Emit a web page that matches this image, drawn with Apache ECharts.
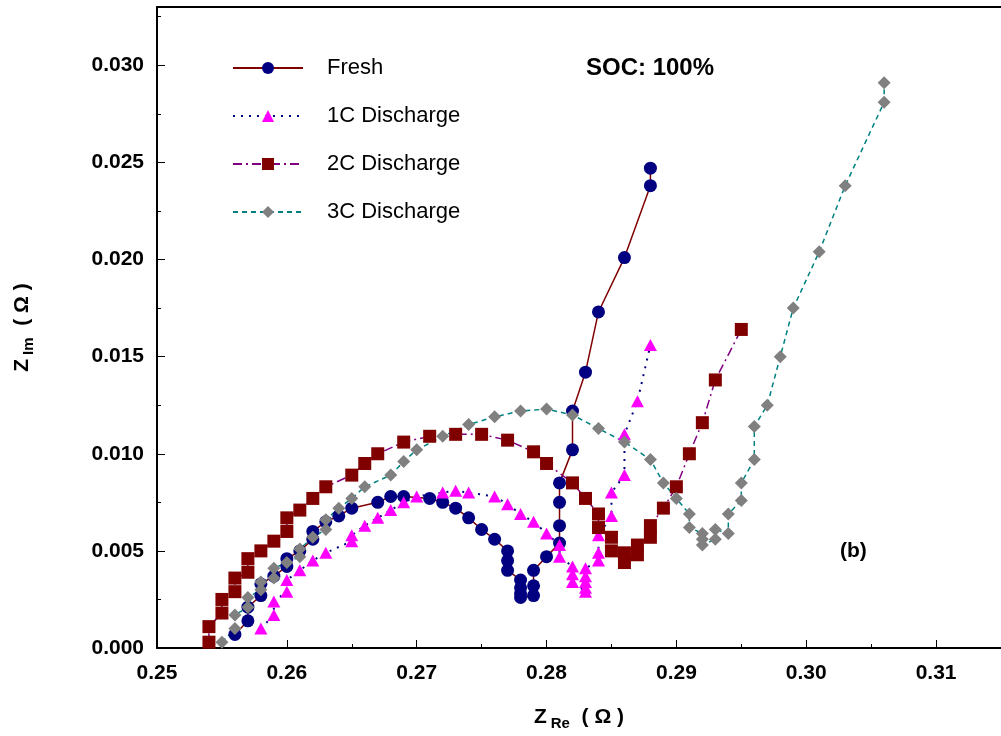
<!DOCTYPE html>
<html>
<head>
<meta charset="utf-8">
<script src="https://cdn.jsdelivr.net/npm/echarts@6/dist/echarts.min.js"></script>
<style>
  html, body { margin: 0; padding: 0; background: #fff; }
  #chart { width: 1001px; height: 736px; }
</style>
</head>
<body>
<div id="chart"></div>
<script>
// Z_Re, Z_Im pairs (ohm)
const freshData = [
  [0.2560, 0.0007], [0.2570, 0.0014], [0.2570, 0.0021], [0.2580, 0.0027], [0.2580, 0.0033],
  [0.2590, 0.0037], [0.2600, 0.0042], [0.2600, 0.0046], [0.2610, 0.0050], [0.2620, 0.0056],
  [0.2620, 0.0060], [0.2630, 0.0065], [0.2640, 0.0068], [0.2650, 0.0072], [0.2670, 0.0075],
  [0.2680, 0.0078], [0.2690, 0.0078], [0.2710, 0.0077], [0.2720, 0.0075], [0.2730, 0.0072],
  [0.2740, 0.0067], [0.2750, 0.0061], [0.2760, 0.0056], [0.2770, 0.0050], [0.2770, 0.0045],
  [0.2770, 0.0040], [0.2780, 0.0035], [0.2780, 0.0031], [0.2780, 0.0028], [0.2780, 0.0026],
  [0.2790, 0.0027], [0.2790, 0.0032], [0.2790, 0.0040], [0.2800, 0.0047], [0.2810, 0.0054],
  [0.2810, 0.0063], [0.2810, 0.0075], [0.2810, 0.0085], [0.2820, 0.0102], [0.2820, 0.0122],
  [0.2830, 0.0142], [0.2840, 0.0173], [0.2860, 0.0201], [0.2880, 0.0238], [0.2880, 0.0247]
]
const c1Data = [
  [0.2580, 0.0010], [0.2590, 0.0017], [0.2590, 0.0024], [0.2600, 0.0029], [0.2600, 0.0035],
  [0.2610, 0.0040], [0.2620, 0.0045], [0.2630, 0.0049], [0.2650, 0.0055], [0.2650, 0.0058],
  [0.2660, 0.0063], [0.2670, 0.0067], [0.2680, 0.0071], [0.2690, 0.0075], [0.2700, 0.0078],
  [0.2720, 0.0080], [0.2730, 0.0081], [0.2740, 0.0080], [0.2760, 0.0078], [0.2770, 0.0074],
  [0.2780, 0.0069], [0.2790, 0.0065], [0.2800, 0.0059], [0.2810, 0.0053], [0.2810, 0.0047],
  [0.2820, 0.0042], [0.2820, 0.0038], [0.2820, 0.0034], [0.2830, 0.0029], [0.2830, 0.0031],
  [0.2830, 0.0034], [0.2830, 0.0037], [0.2830, 0.0041], [0.2840, 0.0045], [0.2840, 0.0049],
  [0.2840, 0.0058], [0.2850, 0.0068], [0.2850, 0.0080], [0.2860, 0.0089], [0.2860, 0.0110],
  [0.2870, 0.0127], [0.2880, 0.0156]
]
const c2Data = [
  [0.2540, 0.0003], [0.2540, 0.0011], [0.2550, 0.0018], [0.2550, 0.0025], [0.2560, 0.0029],
  [0.2560, 0.0036], [0.2570, 0.0039], [0.2570, 0.0046], [0.2580, 0.0050], [0.2590, 0.0055],
  [0.2600, 0.0060], [0.2600, 0.0067], [0.2610, 0.0071], [0.2620, 0.0077], [0.2630, 0.0083],
  [0.2650, 0.0089], [0.2660, 0.0095], [0.2670, 0.0100], [0.2690, 0.0106], [0.2710, 0.0109],
  [0.2730, 0.0110], [0.2750, 0.0110], [0.2770, 0.0107], [0.2790, 0.0101], [0.2800, 0.0095],
  [0.2820, 0.0085], [0.2830, 0.0077], [0.2840, 0.0069], [0.2840, 0.0062], [0.2850, 0.0057],
  [0.2850, 0.0050], [0.2860, 0.0049], [0.2860, 0.0044], [0.2870, 0.0048], [0.2870, 0.0053],
  [0.2880, 0.0057], [0.2880, 0.0063], [0.2890, 0.0072], [0.2900, 0.0083], [0.2910, 0.0100],
  [0.2920, 0.0116], [0.2930, 0.0138], [0.2950, 0.0164]
]
const c3Data = [
  [0.2550, 0.0003], [0.2560, 0.0010], [0.2560, 0.0017], [0.2570, 0.0021], [0.2570, 0.0026],
  [0.2580, 0.0030], [0.2580, 0.0034], [0.2590, 0.0036], [0.2590, 0.0041], [0.2600, 0.0044],
  [0.2610, 0.0047], [0.2610, 0.0051], [0.2620, 0.0057], [0.2630, 0.0061], [0.2630, 0.0066],
  [0.2640, 0.0072], [0.2650, 0.0077], [0.2660, 0.0083], [0.2680, 0.0089], [0.2690, 0.0096],
  [0.2700, 0.0102], [0.2720, 0.0109], [0.2740, 0.0115], [0.2760, 0.0119], [0.2780, 0.0122],
  [0.2800, 0.0123], [0.2820, 0.0120], [0.2840, 0.0113], [0.2860, 0.0106], [0.2880, 0.0097],
  [0.2890, 0.0085], [0.2900, 0.0077], [0.2910, 0.0069], [0.2910, 0.0062], [0.2920, 0.0059],
  [0.2920, 0.0056], [0.2920, 0.0053], [0.2930, 0.0056], [0.2930, 0.0061], [0.2940, 0.0059],
  [0.2940, 0.0069], [0.2950, 0.0076], [0.2950, 0.0085], [0.2960, 0.0097], [0.2960, 0.0114],
  [0.2970, 0.0125], [0.2980, 0.0150], [0.2990, 0.0175], [0.3010, 0.0204], [0.3030, 0.0238],
  [0.3060, 0.0281], [0.3060, 0.0291]
]
const seriesNames = ['Fresh', '1C Discharge', '2C Discharge', '3C Discharge']

const font = 'Liberation Sans, Arial, sans-serif'
const chart = echarts.init(document.getElementById('chart'))

function line(name, data, symbol, size, markColor, lineColor, dash, width) {
  return {
    name: name,
    type: 'line',
    data: data,
    symbol: symbol,
    symbolSize: size,
    showAllSymbol: true,
    itemStyle: { color: markColor, opacity: 1 },
    lineStyle: { color: lineColor, type: dash, width: width },
    emphasis: { disabled: true }
  }
}

const nameRich = {
  z: { fontFamily: font, fontSize: 21, fontWeight: 'bold', color: '#000' },
  s: { fontFamily: font, fontSize: 15, fontWeight: 'bold', color: '#000', padding: [12, 0, 0, 4] },
  p: { fontFamily: font, fontSize: 21, fontWeight: 'bold', color: '#000' }
}

chart.setOption({
  animation: false,
  backgroundColor: '#fff',
  grid: { left: 157, right: 0, top: 7, bottom: 87 },
  legend: {
    orient: 'vertical',
    left: 232,
    top: 57,
    padding: 0,
    itemWidth: 70,
    itemHeight: 15,
    itemGap: 26,
    textStyle: { fontFamily: font, fontSize: 22, color: '#000', padding: [0, 0, 0, 19] },
    data: seriesNames
  },
  xAxis: [{
    type: 'value',
    min: 0.25,
    max: 0.315,
    interval: 0.01,
    name: '{z|Z}{s|Re}{p|  ( Ω )}',
    nameLocation: 'middle',
    nameGap: 56,
    nameTextStyle: { rich: nameRich },
    axisLine: { lineStyle: { color: '#000', width: 2 } },
    axisTick: { inside: true, length: 8, lineStyle: { color: '#000', width: 1 } },
    minorTick: { show: true, splitNumber: 2, length: 4, lineStyle: { color: '#000', width: 1 } },
    splitLine: { show: false },
    axisLabel: {
      margin: 15,
      fontFamily: font, fontSize: 21, fontWeight: 'bold', color: '#000',
      formatter: v => v.toFixed(2),
      showMaxLabel: false
    }
  }, {
    type: 'value',
    position: 'top',
    min: 0.25,
    max: 0.315,
    axisLine: { lineStyle: { color: '#000', width: 2 } },
    axisTick: { show: false },
    axisLabel: { show: false },
    splitLine: { show: false }
  }],
  yAxis: {
    type: 'value',
    min: 0,
    max: 0.033,
    interval: 0.005,
    name: '{z|Z}{s|Im}{p|  ( Ω )}',
    nameLocation: 'middle',
    nameRotate: 90,
    nameGap: 121,
    nameTextStyle: { rich: nameRich },
    axisLine: { lineStyle: { color: '#000', width: 2 } },
    axisTick: { inside: true, length: 8, lineStyle: { color: '#000', width: 1 } },
    minorTick: { show: true, splitNumber: 2, length: 4, lineStyle: { color: '#000', width: 1 } },
    splitLine: { show: false },
    axisLabel: {
      margin: 13,
      fontFamily: font, fontSize: 21, fontWeight: 'bold', color: '#000',
      formatter: v => v.toFixed(3),
      showMaxLabel: false
    }
  },
  graphic: [
    { type: 'text', left: 586, top: 56, style: { text: 'SOC: 100%', font: 'bold 24px ' + font, fill: '#000' } },
    { type: 'text', left: 840, top: 541, style: { text: '(b)', font: 'bold 21px ' + font, fill: '#000' } }
  ],
  series: [
    line(seriesNames[0], freshData, 'circle', 13, '#000080', '#800000', 'solid', 1.5),
    line(seriesNames[1], c1Data, 'triangle', [13, 12], '#FF00FF', '#000080', [2, 6], 2),
    line(seriesNames[2], c2Data, 'rect', 13, '#800000', '#800080', [9, 4, 2, 4], 1.5),
    line(seriesNames[3], c3Data, 'diamond', 13, '#808080', '#008080', [5, 4], 1.5)
  ]
})
</script>
</body>
</html>
